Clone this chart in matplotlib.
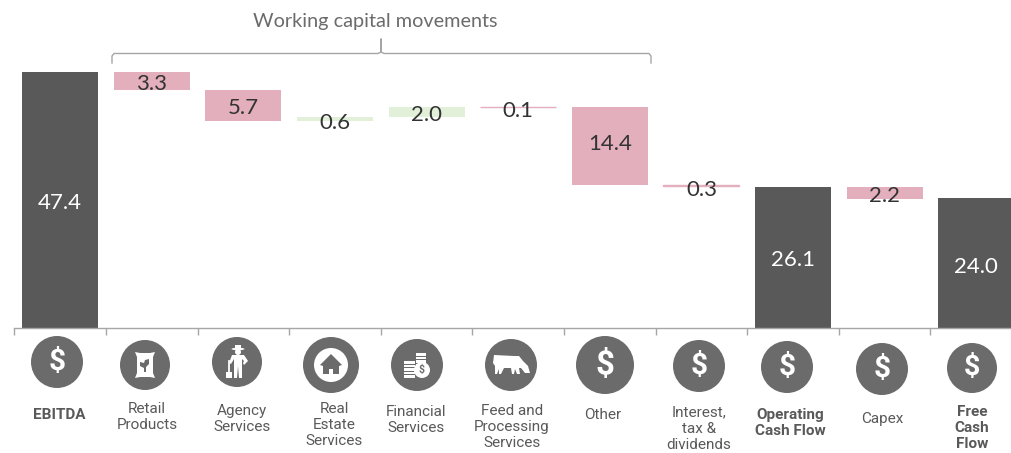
import matplotlib
matplotlib.use('Agg')
import matplotlib.pyplot as plt
from matplotlib.patches import Circle, Polygon, Rectangle, Ellipse

W, H = 1012, 453

categories = ['EBITDA', 'Retail\nProducts', 'Agency\nServices', 'Real\nEstate\nServices',
              'Financial\nServices', 'Feed and\nProcessing\nServices', 'Other',
              'Interest,\ntax &\ndividends', 'Operating\nCash Flow', 'Capex', 'Free\nCash\nFlow']
bottoms = [0, 44.1, 38.4, 38.4, 39.0, 40.9, 26.5, 26.2, 0, 23.9, 0]
heights = [47.4, 3.3, 5.7, 0.6, 2.0, 0.1, 14.4, 0.3, 26.1, 2.2, 24.0]
labels = ['47.4', '3.3', '5.7', '0.6', '2.0', '0.1', '14.4', '0.3', '26.1', '2.2', '24.0']
kinds = ['total', 'down', 'down', 'up', 'up', 'down', 'down', 'down', 'total', 'down', 'total']

colors = {'total': '#595959', 'down': '#e3afbd', 'up': '#e2efd9'}
bold = ['EBITDA', 'Operating\nCash Flow', 'Free\nCash\nFlow']

# value label shift from bar middle, px downwards
label_dy = [3, 3, 3, 4, 3, 4, -2, 4, 2, 3, 4]

# icon circle centre x, y, radius and label centre x, y in pixels
icons = [(57, 362, 26, 'dollar'), (145, 365, 25, 'bag'), (237, 362, 25, 'farmer'),
         (331, 365, 28, 'house'), (417, 365, 26, 'coins'), (511, 365, 26, 'cow'),
         (605, 365, 29, 'dollar'), (699, 366, 26, 'dollar'), (787, 367, 26, 'dollar'),
         (882, 369, 26, 'dollar'), (972, 368, 25, 'dollar')]
label_pos = [(59, 415), (147, 417), (242, 419), (334, 425), (416, 420), (512, 427),
             (603, 415), (699, 429), (790, 423), (882, 419), (972, 428)]

fig = plt.figure(figsize=(W / 100, H / 100), dpi=100)

# one category is 91.6 px wide, first tick at x=14, baseline at y=328
step = 91.6
ax = fig.add_axes([14.4 / W, (H - 328) / H, step * 11 / W, 256 / H])
ax.set_xlim(-0.5, 10.5)
ax.set_ylim(0, 47.4)
x = list(range(len(categories)))
bars = ax.bar(x, heights, bottom=bottoms, width=0.83, color=[colors[k] for k in kinds], linewidth=0)
# the hairline steps would vanish without an edge
for b, h, k in zip(bars, heights, kinds):
    if h < 0.5:
        b.set_edgecolor(colors[k])
        b.set_linewidth(1.0)

for s in ['top', 'left', 'right']:
    ax.spines[s].set_visible(False)
ax.spines['bottom'].set_color('#a6a6a6')
ax.spines['bottom'].set_linewidth(1)
ax.set_yticks([])
ax.set_xticks([i - 0.5 for i in x])
ax.set_xticklabels([])
ax.tick_params(axis='x', direction='out', length=5, width=1, color='#a6a6a6')

for i in x:
    mid = bottoms[i] + heights[i] / 2
    col = 'white' if kinds[i] == 'total' else '#333333'
    ax.annotate(labels[i], (i, mid), xytext=(0, -label_dy[i] * 0.72), textcoords='offset points',
                ha='center', va='center', color=col, fontsize=16, family='Lato', zorder=5)

# overlay in pixel coordinates for the bracket and the icons
ov = fig.add_axes([0, 0, 1, 1])
ov.set_xlim(0, W)
ov.set_ylim(H, 0)
ov.axis('off')
ov.patch.set_alpha(0)

ov.plot([112, 112, 114, 378, 381, 381, 381, 384, 649, 651, 651],
        [63, 56, 53.5, 53.5, 52, 39, 52, 53.5, 53.5, 56, 63], color='#a6a6a6', lw=1)
ov.text(375, 22, 'Working capital movements', ha='center', va='center',
        fontsize=14.3, family='Lato', color='#6b6b6b')

grey = '#6b6b6b'
for (cx, cy, r, kind), cat, (lx, ly) in zip(icons, categories, label_pos):
    ov.add_patch(Ellipse((cx, cy), 2 * r, 2 * r, color=grey, lw=0))
    if kind == 'dollar':
        ov.text(cx, cy, '$', ha='center', va='center', color='white', fontsize=r * 0.82,
                family='Roboto', fontweight='bold')
    elif kind == 'bag':
        ov.add_patch(Polygon([(cx - 10, cy - 13), (cx - 5, cy - 12), (cx + 5, cy - 12), (cx + 10, cy - 13),
                              (cx + 8, cy - 8), (cx + 8, cy + 8), (cx + 10, cy + 13), (cx + 5, cy + 12),
                              (cx - 5, cy + 12), (cx - 10, cy + 13), (cx - 8, cy + 8), (cx - 8, cy - 8)],
                             color='white', lw=0))
        ov.add_patch(Polygon([(cx + 4, cy - 6), (cx + 4, cy - 1), (cx + 1, cy + 2), (cx + 1, cy + 7),
                              (cx - 1, cy + 7), (cx - 1, cy + 3), (cx - 5, cy + 1), (cx - 5, cy - 3),
                              (cx - 1, cy - 2), (cx, cy - 5)], color=grey, lw=0))
    elif kind == 'farmer':
        ov.add_patch(Ellipse((cx + 1, cy - 13), 13, 2.5, color='white', lw=0))
        ov.add_patch(Rectangle((cx - 2, cy - 17), 6, 4, color='white', lw=0))
        ov.add_patch(Circle((cx + 1, cy - 10), 3, color='white', lw=0))
        ov.add_patch(Polygon([(cx - 5, cy - 7), (cx + 7, cy - 7), (cx + 11, cy - 1), (cx + 7, cy + 3),
                              (cx + 6, cy + 1), (cx + 7, cy - 1), (cx + 5, cy - 3), (cx + 5, cy + 16),
                              (cx + 2, cy + 16), (cx + 1, cy + 4), (cx, cy + 16), (cx - 3, cy + 16),
                              (cx - 3, cy - 3), (cx - 6, cy + 2), (cx - 8, cy + 1)],
                             color='white', lw=0))
        ov.plot([cx - 8, cx - 8], [cy - 1, cy + 10], color='white', lw=1.3)
        ov.add_patch(Rectangle((cx - 11, cy + 10), 6, 6, color='white', lw=0))
    elif kind == 'house':
        ov.add_patch(Circle((cx, cy), 17, color='white', lw=0))
        ov.add_patch(Polygon([(cx, cy - 11), (cx + 11, cy), (cx + 8, cy + 1), (cx + 8, cy + 9), (cx + 2, cy + 9),
                              (cx + 2, cy + 4), (cx - 2, cy + 4), (cx - 2, cy + 9), (cx - 8, cy + 9),
                              (cx - 8, cy + 1), (cx - 11, cy)], color=grey, lw=0))
    elif kind == 'coins':
        for k in range(5):
            ov.add_patch(Rectangle((cx - 13, cy - 4 + k * 3.6), 11, 2.6, color='white', lw=0))
        for k in range(4):
            ov.add_patch(Rectangle((cx - 1, cy - 12 + k * 3.6), 10, 2.6, color='white', lw=0))
        ov.add_patch(Circle((cx + 5, cy + 5), 8, color='white', lw=0))
        ov.text(cx + 5, cy + 5, '$', ha='center', va='center', color=grey, fontsize=7.5,
                family='Roboto', fontweight='bold')
    elif kind == 'cow':
        ov.add_patch(Polygon([(cx - 17, cy - 10), (cx + 3, cy - 9), (cx + 8, cy - 9), (cx + 12, cy - 4),
                              (cx + 17, cy + 1), (cx + 19, cy + 8), (cx + 14, cy + 8), (cx + 10, cy + 3),
                              (cx + 8, cy + 3), (cx + 9, cy + 9), (cx + 6, cy + 9), (cx + 4, cy + 4),
                              (cx + 3, cy + 9), (cx + 1, cy + 9), (cx, cy + 3), (cx - 7, cy + 3),
                              (cx - 10, cy + 9), (cx - 12, cy + 9), (cx - 12, cy + 4), (cx - 14, cy + 9),
                              (cx - 16, cy + 9), (cx - 16, cy + 1), (cx - 18, cy - 2)], color='white', lw=0))
    ov.text(lx, ly, cat, ha='center', va='center', multialignment='center', color='#595959',
            fontsize=11, family='Roboto', fontweight='bold' if cat in bold else 'normal',
            linespacing=1.22)

fig.savefig('out.png', dpi=100, facecolor='white')
